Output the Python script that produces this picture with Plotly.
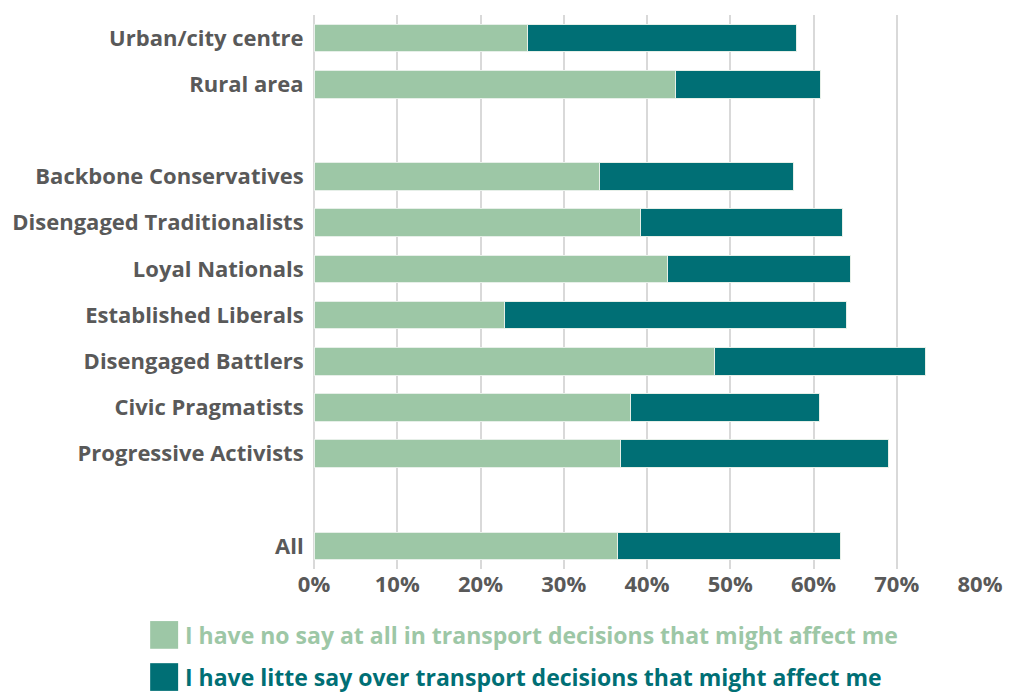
import plotly.graph_objects as go

# Segments, top to bottom; blank entries are spacer rows
categories = [
    "Urban/city centre", "Rural area", " ",
    "Backbone Conservatives", "Disengaged Traditionalists", "Loyal Nationals",
    "Established Liberals", "Disengaged Battlers", "Civic Pragmatists",
    "Progressive Activists", "  ", "All",
]
bar_categories = [c for c in categories if c.strip()]

no_say = [25.7, 43.4, 34.3, 39.2, 42.5, 22.9, 48.1, 38.0, 36.8, 36.5]
little_say = [32.2, 17.5, 23.3, 24.3, 21.9, 41.1, 25.4, 22.7, 32.2, 26.7]

series_names = [
    "I have no say at all in transport decisions that might affect me",
    "I have litte say over transport decisions that might affect me",
]
colors = ["#9DC7A6", "#006F75"]

tick_vals = [0, 10, 20, 30, 40, 50, 60, 70, 80]
tick_text = [f"{v}%" for v in tick_vals]

FONT = "Open Sans"
GREY = "#595959"
SIZE = 22
LEGEND_SIZE = 23

fig = go.Figure()
for name, vals, col in zip(series_names, [no_say, little_say], colors):
    fig.add_trace(go.Bar(
        y=bar_categories, x=vals, name=name, orientation="h",
        marker=dict(color=col, line=dict(color="#e6efe8", width=1)),
        showlegend=False,
    ))

fig.update_layout(
    barmode="stack",
    bargap=0.4,
    width=1014, height=693,
    margin=dict(l=314, r=34, t=15, b=124),
    paper_bgcolor="white", plot_bgcolor="white",
    font=dict(family=FONT, size=SIZE, color=GREY),
    xaxis=dict(
        range=[0, 80], tickvals=tick_vals, ticktext=tick_text,
        showgrid=True, gridcolor="#D9D9D9", gridwidth=2,
        zeroline=True, zerolinecolor="#D9D9D9", zerolinewidth=2,
        tickfont=dict(family=FONT, size=SIZE, color=GREY, weight="bold"),
        ticks="", fixedrange=True, automargin=False,
    ),
    yaxis=dict(
        type="category", categoryorder="array", categoryarray=categories,
        range=[len(categories) - 0.5, -0.5],
        tickfont=dict(family=FONT, size=SIZE, color=GREY, weight="bold"),
        ticks="outside", ticklen=5, tickcolor="rgba(0,0,0,0)",
        showgrid=False, automargin=False,
    ),
)

# Legend drawn as coloured swatches with matching coloured text
legend_y = [-0.119, -0.195]
for name, col, ly in zip(series_names, colors, legend_y):
    fig.add_shape(
        type="rect", xref="paper", yref="paper",
        x0=-0.246, x1=-0.204, y0=ly - 0.025, y1=ly + 0.025,
        fillcolor=col, line=dict(width=0),
    )
    fig.add_annotation(
        xref="paper", yref="paper", x=-0.197, y=ly,
        xanchor="left", yanchor="middle", showarrow=False,
        text=f"<b>{name}</b>",
        font=dict(family=FONT, size=LEGEND_SIZE, color=col),
    )

fig.write_html("out.html")
